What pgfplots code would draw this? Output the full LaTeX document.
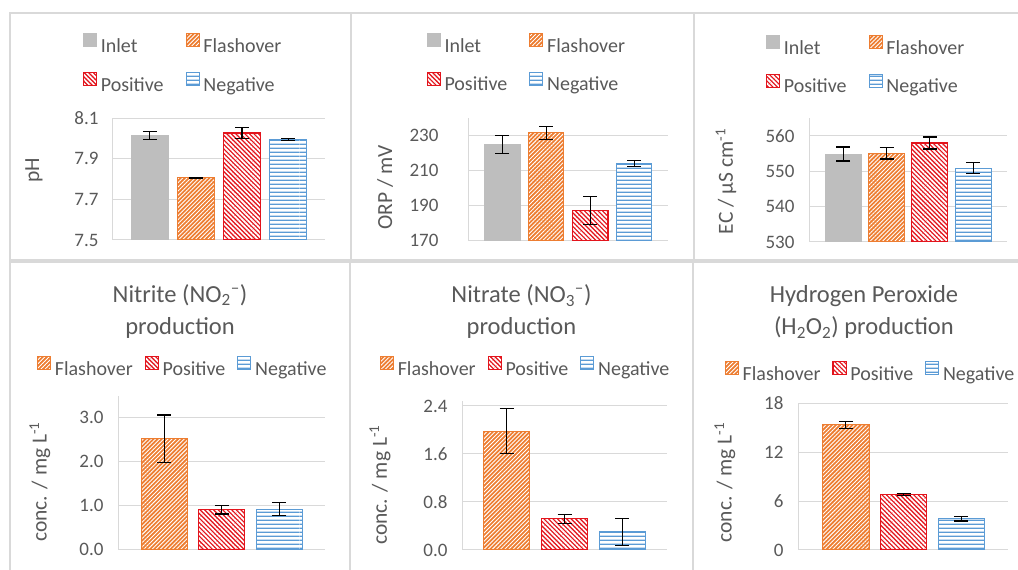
\documentclass[border=0pt]{standalone}
\usepackage{fontspec}
\setmainfont{Carlito}
\usepackage{pgfplots}
\pgfplotsset{compat=1.18}
\usetikzlibrary{patterns.meta}

\definecolor{txt}{HTML}{595959}
\definecolor{gridc}{HTML}{D9D9D9}
\definecolor{framec}{HTML}{D9D9D9}
\definecolor{inletc}{HTML}{BEBEBE}
\definecolor{orng}{HTML}{ED7D31}
\definecolor{redc}{HTML}{E3141C}
\definecolor{bluec}{HTML}{5B9BD5}

% horizontal stripes built from full-width filled strips (no tile seams)
\pgfdeclarepatternformonly{hstripes}{\pgfpoint{0pt}{0pt}}{\pgfpoint{100pt}{4pt}}{\pgfpoint{100pt}{4pt}}{%
  \pgfpathrectangle{\pgfpoint{0pt}{1.3pt}}{\pgfpoint{100pt}{1.5pt}}\pgfusepath{fill}}

\pgfplotsset{
  panel/.style={
    scale only axis, ybar,
    axis x line*=bottom, axis y line*=left,
    axis line style={draw=gridc, line width=1pt},
    ymajorgrids, major grid style={draw=gridc, line width=1pt},
    xtick=\empty, major tick length=0pt,
    tick label style={font=\fontsize{19}{22}\selectfont, text=txt},
    yticklabel style={xshift=-11pt},
    label style={font=\fontsize{21.5}{25}\selectfont, text=txt},
    title style={font=\fontsize{24.5}{32}\selectfont, text=txt, align=center, anchor=center},
    error bars/y dir=both, error bars/y explicit,
    error bars/error bar style={draw=black, line width=1.2pt},
    error bars/error mark options={rotate=90, draw=black, line width=1.2pt, mark size=7pt},
    legend style={draw=none, fill=none, inner sep=0pt, outer sep=0pt,
      font=\fontsize{20}{24}\selectfont, text=txt, anchor=west,
      nodes={inner xsep=4pt, inner ysep=0pt}},
    legend cell align=left,
    legend image code/.code={\draw[##1, line width=0.8pt] (0pt,-0.5pt) rectangle (13pt,12.5pt);},
  },
  inletbar/.style={fill=inletc, draw=inletc, line width=0.5pt, bar shift=0pt},
  flashbar/.style={preaction={fill=orng}, pattern={Lines[angle=45,distance=2.9pt,line width=0.9pt]},
    pattern color=white, draw=orng, line width=1pt, bar shift=0pt},
  posbar/.style={preaction={fill=redc}, pattern={Lines[angle=-45,distance=3.2pt,line width=1.7pt]},
    pattern color=white, draw=redc, line width=1.2pt, bar shift=0pt},
  negbar/.style={preaction={fill=white}, pattern=hstripes,
    pattern color=bluec, draw=bluec, line width=1pt, bar shift=0pt},
  toplegend/.style={legend columns=2,
    legend style={row sep=18pt, /tikz/every even column/.append style={column sep=18pt}}},
  botlegend/.style={legend columns=3,
    legend style={/tikz/every even column/.append style={column sep=8pt}}},
}

\begin{document}
\begin{tikzpicture}
\useasboundingbox (0pt,0pt) rectangle (1018pt,570pt);
\begin{scope}
\clip (0pt,0pt) rectangle (1018pt,570pt);

% panel frames
\begin{scope}[draw=framec, line width=1.3pt]
\draw (10pt,310pt) rectangle (351pt,557pt);
\draw (351pt,310pt) rectangle (694pt,557pt);
\draw (694pt,310pt) rectangle (1030pt,557pt);
\draw (10pt,-10pt) rectangle (350pt,308pt);
\draw (350pt,-10pt) rectangle (693pt,308pt);
\draw (693pt,-10pt) rectangle (1030pt,308pt);
\end{scope}

% pH
\begin{axis}[panel, toplegend, at={(113pt,330pt)}, anchor=south west,
  width=212pt, height=122pt, bar width=37pt,
  xmin=-0.8, xmax=3.8, ymin=7.5, ymax=8.1,
  ytick={7.5,7.7,7.9,8.1}, yticklabels={7.5,7.7,7.9,8.1},
  ylabel={pH}, ylabel style={at={(axis description cs:-0.373,0.574)}, anchor=center},
  legend style={at={(axis description cs:-0.1415,1.451)}}]
\addplot[inletbar] coordinates {(0,8.013) +- (0,0.02)};
\addplot[flashbar] coordinates {(1,7.806) +- (0,0.003)};
\addplot[posbar]   coordinates {(2,8.026) +- (0,0.026)};
\addplot[negbar]   coordinates {(3,7.995) +- (0,0.006)};
\legend{Inlet,Flashover,Positive,Negative}
\end{axis}

% ORP
\begin{axis}[panel, toplegend, at={(468pt,329.3pt)}, anchor=south west,
  width=200pt, height=122.7pt, bar width=35.5pt,
  xmin=-0.78, xmax=3.77, ymin=170, ymax=240,
  ytick={170,190,210,230}, yticklabels={170,190,210,230},
  yticklabel style={xshift=-15pt},
  ylabel={ORP / mV}, ylabel style={at={(axis description cs:-0.415,0.434)}, anchor=center},
  legend style={at={(axis description cs:-0.2065,1.449)}}]
\addplot[inletbar] coordinates {(0,224.8) +- (0,5.1)};
\addplot[flashbar] coordinates {(1,231.5) +- (0,3.8)};
\addplot[posbar]   coordinates {(2,187.1) +- (0,8.0)};
\addplot[negbar]   coordinates {(3,214.0) +- (0,1.8)};
\legend{Inlet,Flashover,Positive,Negative}
\end{axis}

% EC
\begin{axis}[panel, toplegend, at={(809pt,328pt)}, anchor=south west,
  width=198pt, height=123.7pt, bar width=36pt,
  xmin=-0.79, xmax=3.78, ymin=530, ymax=565,
  ytick={530,540,550,560}, yticklabels={530,540,550,560},
  ylabel={EC / µS cm\textsuperscript{-1}}, ylabel style={at={(axis description cs:-0.419,0.49)}, anchor=center},
  legend style={at={(axis description cs:-0.217,1.433)}}]
\addplot[inletbar] coordinates {(0,554.9) +- (0,2.0)};
\addplot[flashbar] coordinates {(1,555.1) +- (0,1.6)};
\addplot[posbar]   coordinates {(2,558.0) +- (0,1.7)};
\addplot[negbar]   coordinates {(3,550.9) +- (0,1.5)};
\legend{Inlet,Flashover,Positive,Negative}
\end{axis}

% Nitrite
\begin{axis}[panel, botlegend, at={(118pt,20.7pt)}, anchor=south west,
  width=207pt, height=153.3pt, bar width=46pt,
  xmin=-0.8, xmax=2.79, ymin=0, ymax=3.5,
  ytick={0,1,2,3}, yticklabels={0.0,1.0,2.0,3.0},
  ylabel={conc. / mg L\textsuperscript{-1}}, ylabel style={at={(axis description cs:-0.377,0.44)}, anchor=center},
  title={Nitrite (NO\textsubscript{2}\textsuperscript{--})\\production},
  title style={at={(axis description cs:0.2995,1.515)}},
  legend style={at={(axis description cs:-0.391,1.191)}}]
\addplot[flashbar] coordinates {(0,2.52) +- (0,0.545)};
\addplot[posbar]   coordinates {(1,0.90) +- (0,0.095)};
\addplot[negbar]   coordinates {(2,0.92) +- (0,0.155)};
\legend{Flashover,Positive,Negative}
\end{axis}

% Nitrate
\begin{axis}[panel, botlegend, at={(462pt,20pt)}, anchor=south west,
  width=205pt, height=148.8pt, bar width=46pt,
  xmin=-0.77, xmax=2.77, ymin=0, ymax=2.48,
  ytick={0,0.8,1.6,2.4}, yticklabels={0.0,0.8,1.6,2.4},
  ylabel={conc. / mg L\textsuperscript{-1}}, ylabel style={at={(axis description cs:-0.4,0.437)}, anchor=center},
  title={Nitrate (NO\textsubscript{3}\textsuperscript{--})\\production},
  title style={at={(axis description cs:0.29,1.56)}},
  legend style={at={(axis description cs:-0.4,1.232)}}]
\addplot[flashbar] coordinates {(0,1.98) +- (0,0.378)};
\addplot[posbar]   coordinates {(1,0.52) +- (0,0.075)};
\addplot[negbar]   coordinates {(2,0.30) +- (0,0.22)};
\legend{Flashover,Positive,Negative}
\end{axis}

% Hydrogen peroxide
\begin{axis}[panel, botlegend, at={(798pt,20pt)}, anchor=south west,
  width=210pt, height=146.7pt, bar width=46.5pt,
  xmin=-0.83, xmax=2.81, ymin=0, ymax=18,
  ytick={0,6,12,18}, yticklabels={0,6,12,18},
  ylabel={conc. / mg L\textsuperscript{-1}}, ylabel style={at={(axis description cs:-0.348,0.46)}, anchor=center},
  title={Hydrogen Peroxide\\(H\textsubscript{2}O\textsubscript{2}) production},
  title style={at={(axis description cs:0.314,1.581)}},
  legend style={at={(axis description cs:-0.348,1.216)}}]
\addplot[flashbar] coordinates {(0,15.38) +- (0,0.43)};
\addplot[posbar]   coordinates {(1,6.81) +- (0,0.08)};
\addplot[negbar]   coordinates {(2,3.83) +- (0,0.27)};
\legend{Flashover,Positive,Negative}
\end{axis}

\end{scope}
\end{tikzpicture}
\end{document}
